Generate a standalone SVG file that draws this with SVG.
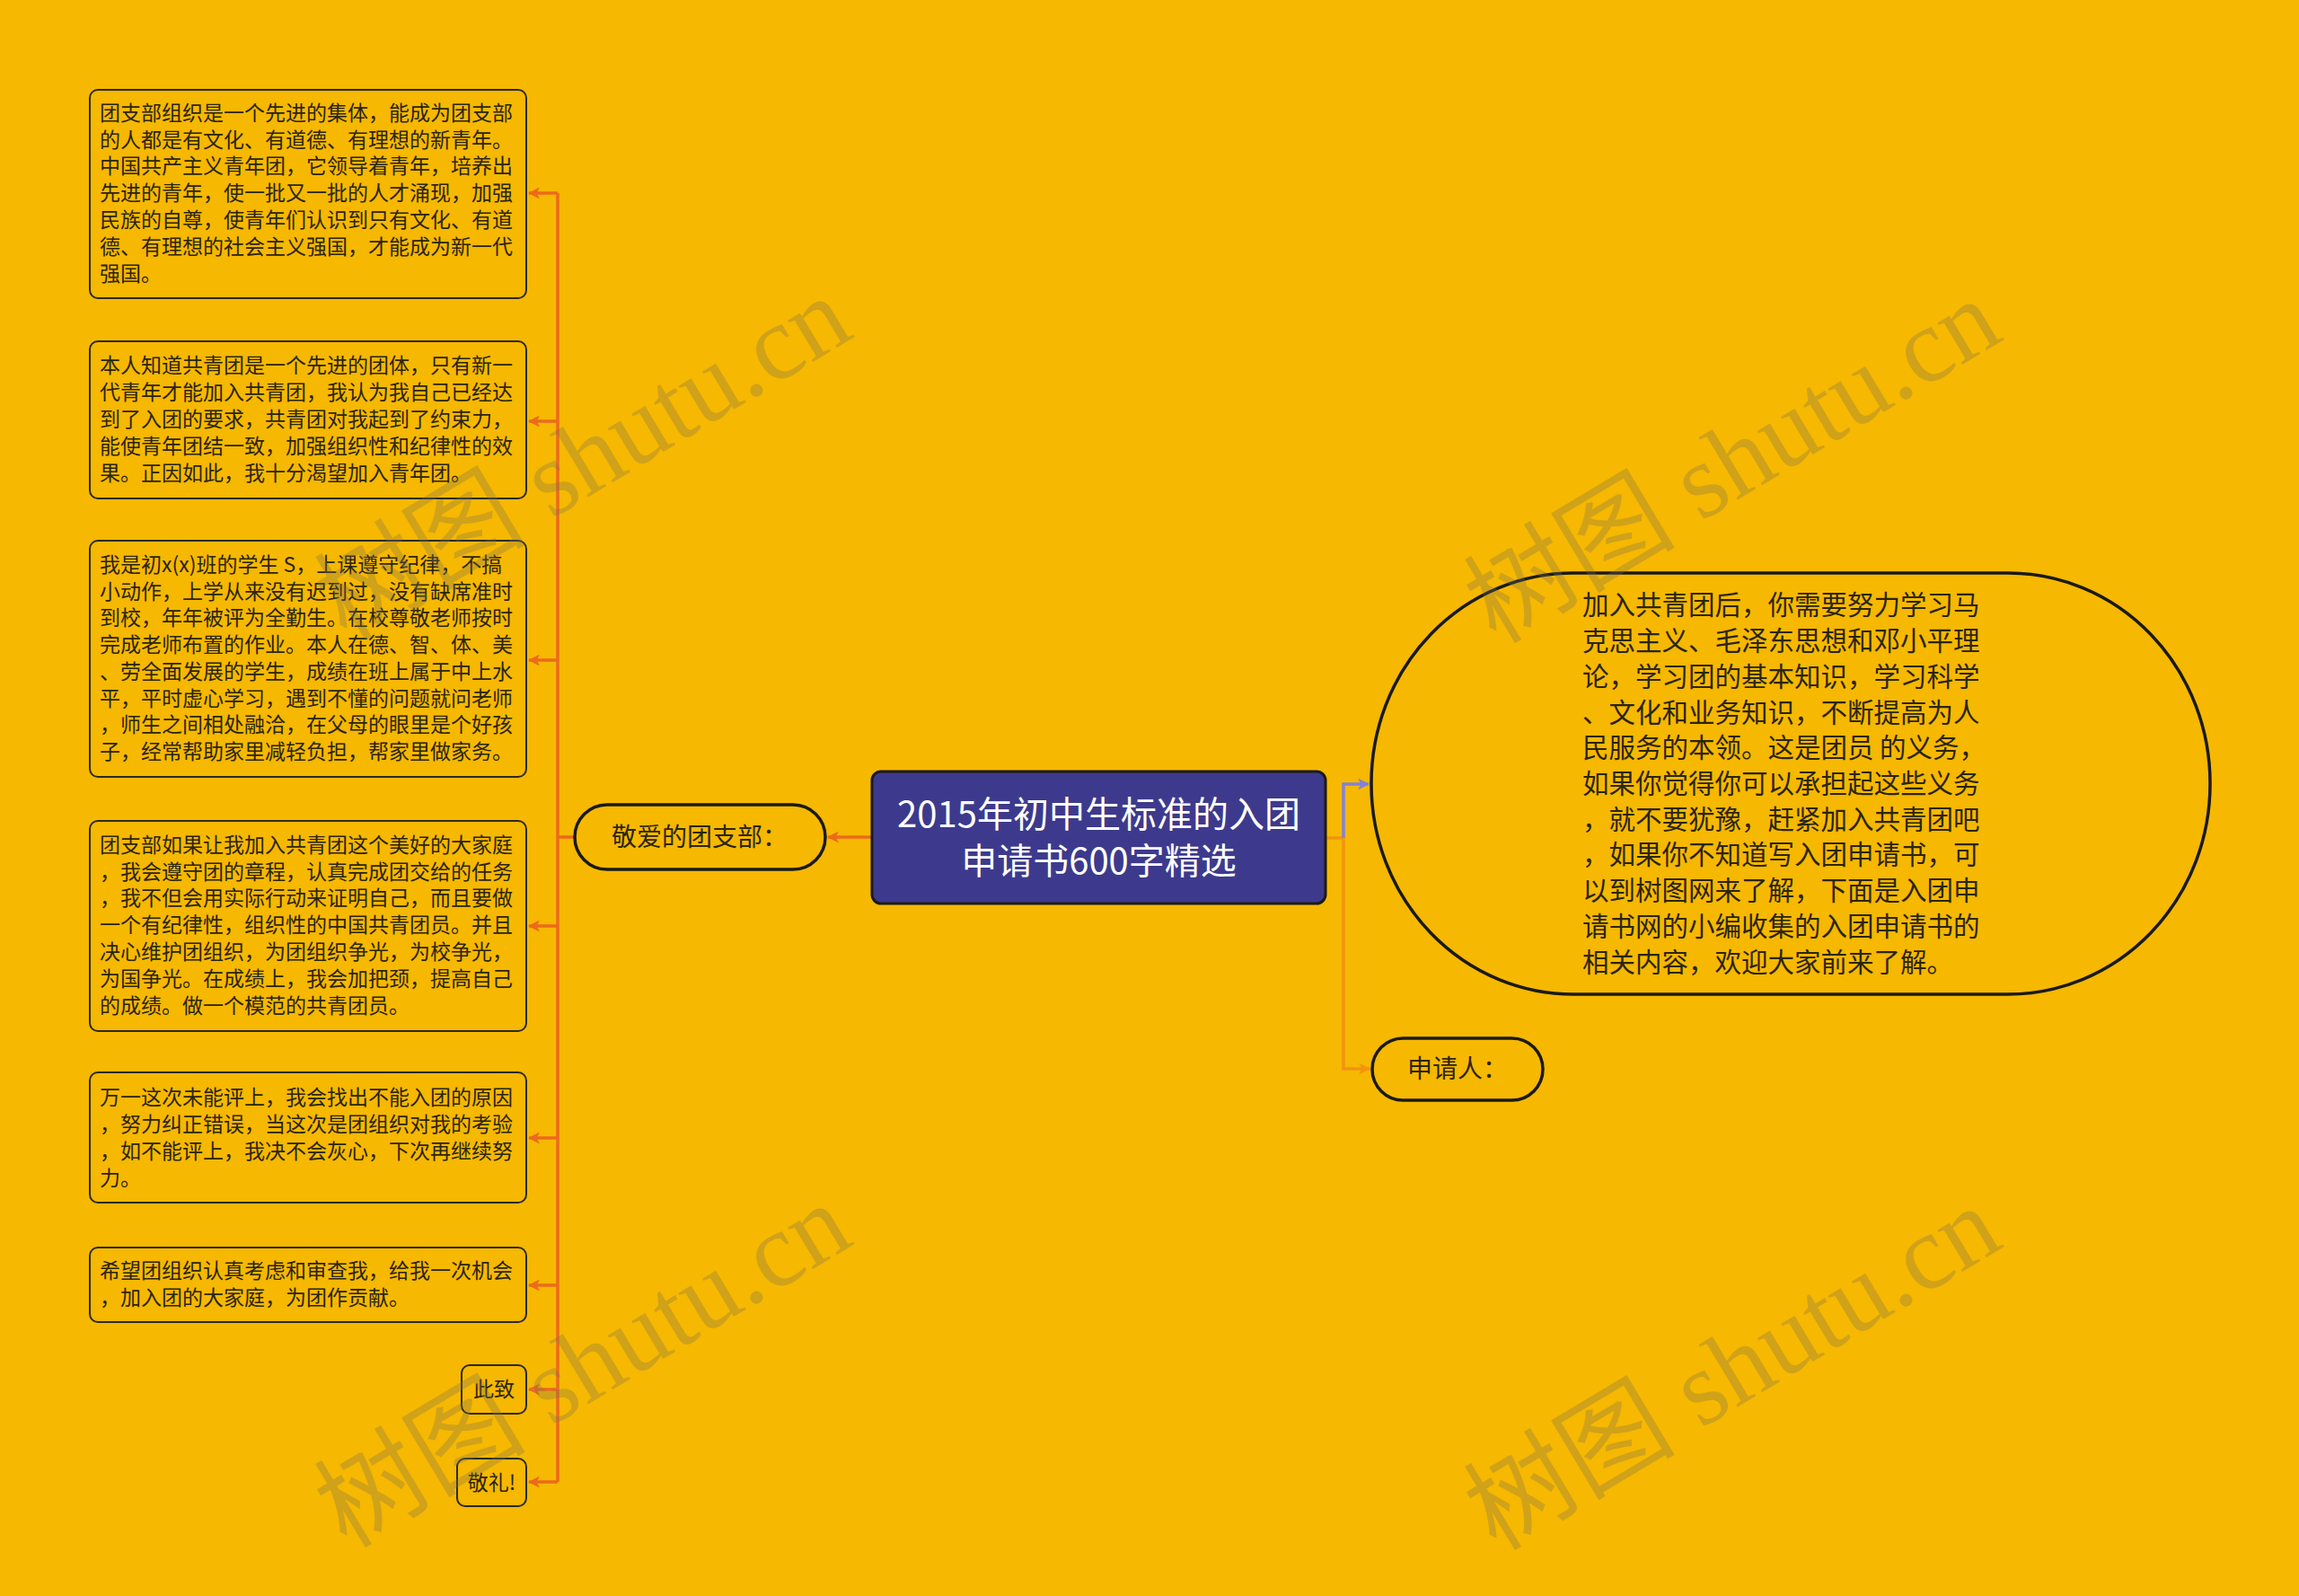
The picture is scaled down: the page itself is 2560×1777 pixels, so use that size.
<svg xmlns="http://www.w3.org/2000/svg" width="2560" height="1777" viewBox="0 0 2560 1777">
<style>
.bg{fill:#F6B800}
.box{fill:#F6B800;stroke:#2a2a2a;stroke-width:2}
.pill{fill:#F6B800;stroke:#1a1a1a;stroke-width:3.5}
.t{font-family:"Noto Sans CJK SC","Noto Sans",sans-serif;fill:#2b2410}
.s{font-size:23px}
.m{font-size:28px}
.b{font-size:29.5px}
.root{fill:#3D3A8D;stroke:#1a1a1a;stroke-width:3}
.rt{font-family:"Noto Sans CJK SC","Noto Sans",sans-serif;font-size:40px;fill:#ffffff}
.c{fill:none;stroke:#EC6A1C;stroke-width:3.5}
.c2{fill:none;stroke:#F2940F;stroke-width:3.5}
.c3{fill:none;stroke:#8283D6;stroke-width:3.5}
.wm{font-family:"Liberation Serif","Noto Sans CJK SC",serif;font-size:118px;fill:#7a7058;opacity:0.3}
</style>
<defs>
<marker id="ao" viewBox="0 0 12 12" refX="11" refY="6" markerWidth="13" markerHeight="13" markerUnits="userSpaceOnUse" orient="auto"><path d="M0,0 L12,6 L0,12 L3,6 z" fill="#EC6A1C"/></marker>
<marker id="ao2" viewBox="0 0 12 12" refX="11" refY="6" markerWidth="13" markerHeight="13" markerUnits="userSpaceOnUse" orient="auto"><path d="M0,0 L12,6 L0,12 L3,6 z" fill="#F2940F"/></marker>
<marker id="ap" viewBox="0 0 12 12" refX="11" refY="6" markerWidth="13" markerHeight="13" markerUnits="userSpaceOnUse" orient="auto"><path d="M0,0 L12,6 L0,12 L3,6 z" fill="#8283D6"/></marker>
</defs>
<rect class="bg" x="0" y="0" width="2560" height="1777"/>

<g id="connectors">
<path class="c" d="M621,215 V1650"/>
<path class="c" d="M621,215 H589" marker-end="url(#ao)"/>
<path class="c" d="M621,469 H589" marker-end="url(#ao)"/>
<path class="c" d="M621,735 H589" marker-end="url(#ao)"/>
<path class="c" d="M621,1031 H589" marker-end="url(#ao)"/>
<path class="c" d="M621,1267 H589" marker-end="url(#ao)"/>
<path class="c" d="M621,1431 H589" marker-end="url(#ao)"/>
<path class="c" d="M621,1547 H589" marker-end="url(#ao)"/>
<path class="c" d="M621,1650 H589" marker-end="url(#ao)"/>
<path class="c" d="M640,932 H621"/>
<path class="c" d="M971,932 H922" marker-end="url(#ao)"/>
<path class="c2" d="M1476,933 H1496 V1190 H1525" marker-end="url(#ao2)"/>
<path class="c3" d="M1496,933 V873 H1524" marker-end="url(#ap)"/>
</g>

<g id="root">
<rect class="root" x="971" y="859" width="505" height="147" rx="10"/>
<text class="rt" x="1223.5" y="921" text-anchor="middle">2015年初中生标准的入团</text>
<text class="rt" x="1223.5" y="973" text-anchor="middle">申请书600字精选</text>
</g>

<g id="n-dear">
<rect class="pill" x="640" y="896" width="279" height="72" rx="36"/>
<text class="t m" x="779" y="942" text-anchor="middle">敬爱的团支部：</text>
</g>

<g id="n-intro">
<rect class="pill" x="1527" y="638" width="934" height="469" rx="225" ry="234"/>
<text class="t b" x="1762" y="684">加入共青团后，你需要努力学习马</text>
<text class="t b" x="1762" y="724">克思主义、毛泽东思想和邓小平理</text>
<text class="t b" x="1762" y="764">论，学习团的基本知识，学习科学</text>
<text class="t b" x="1762" y="804">、文化和业务知识，不断提高为人</text>
<text class="t b" x="1762" y="843">民服务的本领。这是团员 的义务，</text>
<text class="t b" x="1762" y="883">如果你觉得你可以承担起这些义务</text>
<text class="t b" x="1762" y="923">，就不要犹豫，赶紧加入共青团吧</text>
<text class="t b" x="1762" y="962">，如果你不知道写入团申请书，可</text>
<text class="t b" x="1762" y="1002">以到树图网来了解，下面是入团申</text>
<text class="t b" x="1762" y="1042">请书网的小编收集的入团申请书的</text>
<text class="t b" x="1762" y="1082">相关内容，欢迎大家前来了解。</text>
</g>

<g id="n-applicant">
<rect class="pill" x="1528" y="1156" width="190" height="69" rx="34.5"/>
<text class="t m" x="1623" y="1200" text-anchor="middle">申请人：</text>
</g>

<g id="b1">
<rect class="box" x="100" y="100" width="486" height="232" rx="9"/>
<text class="t s" x="111" y="134">团支部组织是一个先进的集体，能成为团支部</text>
<text class="t s" x="111" y="164">的人都是有文化、有道德、有理想的新青年。</text>
<text class="t s" x="111" y="193">中国共产主义青年团，它领导着青年，培养出</text>
<text class="t s" x="111" y="223">先进的青年，使一批又一批的人才涌现，加强</text>
<text class="t s" x="111" y="253">民族的自尊，使青年们认识到只有文化、有道</text>
<text class="t s" x="111" y="283">德、有理想的社会主义强国，才能成为新一代</text>
<text class="t s" x="111" y="313">强国。</text>
</g>

<g id="b2">
<rect class="box" x="100" y="380" width="486" height="175" rx="9"/>
<text class="t s" x="111" y="415">本人知道共青团是一个先进的团体，只有新一</text>
<text class="t s" x="111" y="445">代青年才能加入共青团，我认为我自己已经达</text>
<text class="t s" x="111" y="475">到了入团的要求，共青团对我起到了约束力，</text>
<text class="t s" x="111" y="505">能使青年团结一致，加强组织性和纪律性的效</text>
<text class="t s" x="111" y="535">果。正因如此，我十分渴望加入青年团。</text>
</g>

<g id="b3">
<rect class="box" x="100" y="602" width="486" height="263" rx="9"/>
<text class="t s" x="111" y="637">我是初x(x)班的学生 S，上课遵守纪律，不搞</text>
<text class="t s" x="111" y="667">小动作，上学从来没有迟到过，没有缺席准时</text>
<text class="t s" x="111" y="696">到校，年年被评为全勤生。在校尊敬老师按时</text>
<text class="t s" x="111" y="726">完成老师布置的作业。本人在德、智、体、美</text>
<text class="t s" x="111" y="756">、劳全面发展的学生，成绩在班上属于中上水</text>
<text class="t s" x="111" y="786">平，平时虚心学习，遇到不懂的问题就问老师</text>
<text class="t s" x="111" y="815">，师生之间相处融洽，在父母的眼里是个好孩</text>
<text class="t s" x="111" y="845">子，经常帮助家里减轻负担，帮家里做家务。</text>
</g>

<g id="b4">
<rect class="box" x="100" y="914" width="486" height="234" rx="9"/>
<text class="t s" x="111" y="949">团支部如果让我加入共青团这个美好的大家庭</text>
<text class="t s" x="111" y="979">，我会遵守团的章程，认真完成团交给的任务</text>
<text class="t s" x="111" y="1008">，我不但会用实际行动来证明自己，而且要做</text>
<text class="t s" x="111" y="1038">一个有纪律性，组织性的中国共青团员。并且</text>
<text class="t s" x="111" y="1068">决心维护团组织，为团组织争光，为校争光，</text>
<text class="t s" x="111" y="1098">为国争光。在成绩上，我会加把颈，提高自己</text>
<text class="t s" x="111" y="1128">的成绩。做一个模范的共青团员。</text>
</g>

<g id="b5">
<rect class="box" x="100" y="1194" width="486" height="145" rx="9"/>
<text class="t s" x="111" y="1230">万一这次未能评上，我会找出不能入团的原因</text>
<text class="t s" x="111" y="1260">，努力纠正错误，当这次是团组织对我的考验</text>
<text class="t s" x="111" y="1290">，如不能评上，我决不会灰心，下次再继续努</text>
<text class="t s" x="111" y="1320">力。</text>
</g>

<g id="b6">
<rect class="box" x="100" y="1389" width="486" height="83" rx="9"/>
<text class="t s" x="111" y="1423">希望团组织认真考虑和审查我，给我一次机会</text>
<text class="t s" x="111" y="1453">，加入团的大家庭，为团作贡献。</text>
</g>

<g id="b7">
<rect class="box" x="514" y="1520" width="72" height="54" rx="9"/>
<text class="t s" x="550" y="1555" text-anchor="middle">此致</text>
</g>

<g id="b8">
<rect class="box" x="509" y="1624" width="77" height="53" rx="9"/>
<text class="t s" x="547.5" y="1659" text-anchor="middle">敬礼!</text>
</g>

<g id="watermarks">
<text class="wm" transform="translate(650,512) rotate(-31)" x="0" y="38" text-anchor="middle">树图 shutu.cn</text>
<text class="wm" transform="translate(1930,515) rotate(-31)" x="0" y="38" text-anchor="middle">树图 shutu.cn</text>
<text class="wm" transform="translate(650,1522) rotate(-31)" x="0" y="38" text-anchor="middle">树图 shutu.cn</text>
<text class="wm" transform="translate(1930,1525) rotate(-31)" x="0" y="38" text-anchor="middle">树图 shutu.cn</text>
</g>
</svg>
